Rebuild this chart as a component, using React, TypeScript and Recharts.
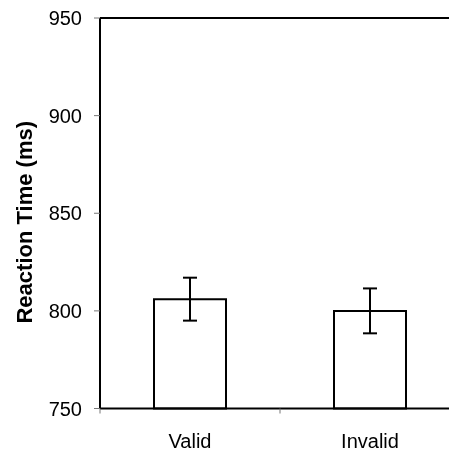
import React from 'react';
import { BarChart, Bar, XAxis, YAxis, ErrorBar, ReferenceLine } from 'recharts';

const categories = ['Valid', 'Invalid'];
const reactionTimes = [806, 800];
const errors = [11, 11.5];
const yTicks = [750, 800, 850, 900, 950];

const data = categories.map((name, i) => ({ name, rt: reactionTimes[i], err: errors[i] }));

const FONT = '"Liberation Sans", Arial, sans-serif';

const XTick = (props: any) => {
  const { x, y, payload } = props;
  const off = payload && typeof payload.offset === 'number' ? payload.offset : 90;
  return (
    <g>
      <line x1={x - off} x2={x - off} y1={y - 5} y2={y} stroke="#777" strokeWidth={1} />
      <text x={x} y={y + 34} textAnchor="middle" fontSize={20} fill="#000" fontFamily={FONT}>
        {payload.value}
      </text>
    </g>
  );
};

const YLabel = (props: any) => {
  const vb = props.viewBox || { x: 0, y: 0, width: 92, height: 390 };
  const cx = vb.x + 16;
  const cy = vb.y + vb.height / 2 + 9;
  return (
    <text
      x={cx}
      y={cy}
      transform={`rotate(-90, ${cx}, ${cy})`}
      textAnchor="middle"
      dominantBaseline="central"
      fontSize={22}
      fontWeight="bold"
      fill="#000"
      fontFamily={FONT}
    >
      Reaction Time (ms)
    </text>
  );
};

export default function App() {
  return (
    <div style={{ position: 'fixed', left: 8, top: 8, width: 441, height: 442, overflow: 'hidden' }}>
      <BarChart
        width={452}
        height={442}
        data={data}
        margin={{ top: 10, right: 0, bottom: 0, left: 0 }}
        barCategoryGap="30%"
        style={{ fontFamily: FONT }}
      >
        <XAxis
          dataKey="name"
          interval={0}
          height={41.5}
          axisLine={{ stroke: '#000', strokeWidth: 2 }}
          tickLine={false}
          tickSize={5}
          tickMargin={0}
          tick={<XTick />}
        />
        <YAxis
          type="number"
          domain={[750, 950]}
          ticks={yTicks}
          interval={0}
          width={92}
          tickSize={6}
          tickMargin={12}
          axisLine={{ stroke: '#000', strokeWidth: 2 }}
          tickLine={{ stroke: '#777' }}
          tick={{ fontSize: 20, fill: '#000', fontFamily: FONT }}
          label={<YLabel />}
        />
        <ReferenceLine y={950} stroke="#000" strokeWidth={2} />
        <Bar dataKey="rt" fill="#fff" stroke="#000" strokeWidth={2} isAnimationActive={false}>
          <ErrorBar dataKey="err" width={7} stroke="#000" strokeWidth={2} />
        </Bar>
      </BarChart>
    </div>
  );
}
